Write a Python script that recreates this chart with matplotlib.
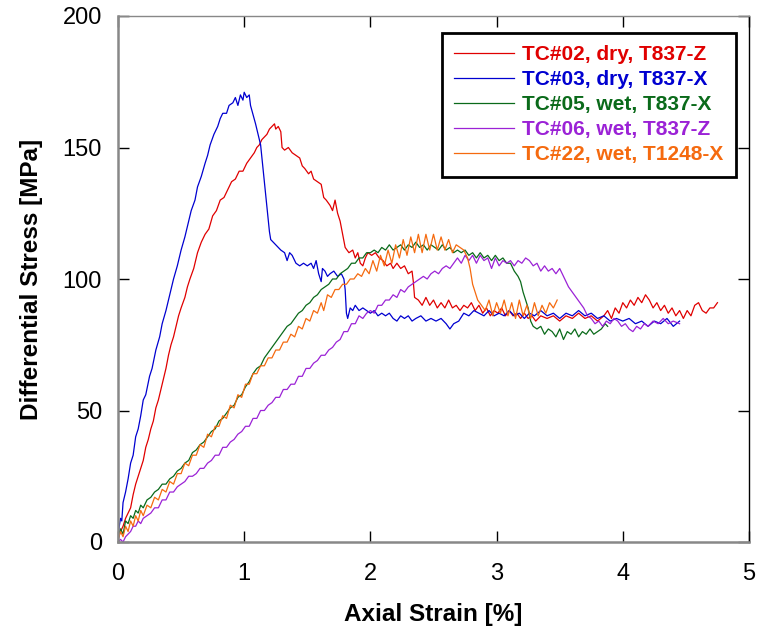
import numpy as np
import matplotlib
matplotlib.use('Agg')
import matplotlib.pyplot as plt

plt.rcParams['font.family'] = ['Liberation Sans', 'DejaVu Sans']

# (axial strain [%], differential stress [MPa])
tc02 = [(0.00, 1), (0.02, 4), (0.04, 6), (0.06, 9), (0.08, 11), (0.10, 13), (0.12, 18), (0.14, 22),
        (0.16, 25), (0.18, 28), (0.20, 31), (0.22, 36), (0.24, 39), (0.26, 43), (0.28, 46), (0.30, 51),
        (0.32, 54), (0.34, 58), (0.36, 62), (0.38, 66), (0.40, 71), (0.42, 75), (0.44, 78), (0.46, 82),
        (0.48, 86), (0.50, 89), (0.53, 93), (0.55, 97), (0.57, 100), (0.60, 104), (0.63, 110), (0.66, 114),
        (0.69, 117), (0.72, 119), (0.75, 124), (0.78, 126), (0.81, 130), (0.84, 131), (0.87, 134),
        (0.90, 137), (0.93, 138), (0.96, 141), (0.99, 141), (1.02, 144), (1.05, 146), (1.08, 148),
        (1.10, 150), (1.12, 151), (1.14, 153), (1.16, 154), (1.18, 155), (1.20, 157), (1.22, 158),
        (1.24, 159), (1.25, 157), (1.27, 158), (1.29, 156), (1.30, 150), (1.32, 149), (1.35, 150),
        (1.38, 148), (1.41, 147), (1.44, 146), (1.46, 143), (1.48, 142), (1.51, 140), (1.53, 141),
        (1.55, 138), (1.58, 137), (1.61, 136), (1.63, 131), (1.65, 130), (1.68, 128), (1.70, 126),
        (1.72, 130), (1.74, 125), (1.76, 122), (1.78, 117), (1.80, 112), (1.83, 110), (1.86, 111),
        (1.88, 108), (1.90, 110), (1.92, 106), (1.94, 105), (1.96, 108), (1.98, 110), (2.01, 109),
        (2.04, 110), (2.07, 108), (2.10, 107), (2.13, 105), (2.16, 106), (2.18, 104), (2.21, 106),
        (2.24, 104), (2.27, 105), (2.30, 102), (2.33, 103), (2.34, 99), (2.35, 93), (2.38, 92),
        (2.41, 90), (2.44, 93), (2.47, 90), (2.50, 92), (2.53, 89), (2.56, 91), (2.59, 89), (2.62, 92),
        (2.65, 89), (2.68, 90), (2.71, 88), (2.74, 90), (2.77, 89), (2.80, 91), (2.83, 88), (2.86, 90),
        (2.89, 87), (2.92, 89), (2.95, 86), (2.98, 88), (3.01, 87), (3.04, 89), (3.07, 86), (3.10, 88),
        (3.13, 86), (3.16, 87), (3.19, 85), (3.22, 87), (3.25, 85), (3.28, 86), (3.31, 84), (3.35, 86),
        (3.40, 85), (3.45, 86), (3.50, 84), (3.55, 86), (3.60, 85), (3.65, 87), (3.70, 85), (3.75, 86),
        (3.80, 84), (3.85, 86), (3.88, 88), (3.91, 85), (3.94, 89), (3.97, 87), (4.00, 91), (4.03, 89),
        (4.06, 92), (4.09, 90), (4.12, 93), (4.15, 91), (4.18, 94), (4.21, 92), (4.24, 89), (4.27, 91),
        (4.30, 88), (4.33, 90), (4.36, 87), (4.39, 89), (4.42, 86), (4.45, 88), (4.48, 85), (4.51, 88),
        (4.54, 86), (4.57, 90), (4.60, 91), (4.63, 88), (4.66, 87), (4.69, 89), (4.72, 89), (4.75, 91)]

tc03 = [(0.00, 2), (0.01, 6), (0.02, 9), (0.03, 8), (0.04, 15), (0.06, 19), (0.08, 24), (0.10, 30),
        (0.12, 33), (0.14, 40), (0.16, 43), (0.18, 48), (0.20, 54), (0.22, 56), (0.25, 63), (0.27, 66),
        (0.30, 73), (0.33, 78), (0.35, 83), (0.38, 88), (0.41, 94), (0.44, 100), (0.47, 105),
        (0.50, 111), (0.53, 116), (0.55, 120), (0.58, 126), (0.61, 130), (0.63, 135), (0.66, 139),
        (0.69, 144), (0.71, 147), (0.73, 151), (0.76, 155), (0.79, 158), (0.81, 161), (0.83, 163),
        (0.86, 163), (0.88, 166), (0.91, 167), (0.93, 169), (0.95, 166), (0.97, 170), (0.99, 168),
        (1.00, 171), (1.02, 169), (1.04, 170), (1.05, 166), (1.09, 159), (1.13, 151), (1.17, 132),
        (1.20, 118), (1.21, 115), (1.25, 113), (1.29, 111), (1.32, 110), (1.34, 107), (1.36, 110),
        (1.38, 109), (1.41, 106), (1.44, 105), (1.47, 106), (1.50, 105), (1.53, 106), (1.55, 104),
        (1.57, 107), (1.59, 102), (1.61, 99), (1.62, 104), (1.64, 103), (1.66, 101), (1.68, 102),
        (1.71, 103), (1.74, 101), (1.77, 102), (1.79, 100), (1.80, 96), (1.81, 87), (1.82, 85),
        (1.84, 89), (1.86, 88), (1.88, 90), (1.91, 88), (1.94, 89), (1.97, 88), (2.00, 87), (2.03, 88),
        (2.06, 86), (2.09, 87), (2.12, 86), (2.15, 87), (2.18, 85), (2.21, 84), (2.24, 86), (2.27, 85),
        (2.30, 86), (2.33, 84), (2.36, 85), (2.40, 86), (2.44, 84), (2.48, 85), (2.52, 84), (2.56, 85),
        (2.60, 83), (2.63, 81), (2.66, 83), (2.70, 84), (2.74, 87), (2.78, 86), (2.82, 88), (2.86, 87),
        (2.90, 86), (2.94, 88), (2.98, 86), (3.02, 87), (3.06, 86), (3.10, 88), (3.14, 86), (3.18, 87),
        (3.22, 85), (3.26, 87), (3.30, 86), (3.35, 88), (3.40, 86), (3.45, 87), (3.50, 85), (3.55, 87),
        (3.60, 86), (3.65, 88), (3.70, 86), (3.75, 87), (3.80, 85), (3.85, 86), (3.90, 84), (3.95, 85),
        (4.00, 84), (4.05, 85), (4.10, 83), (4.15, 84), (4.20, 82), (4.25, 84), (4.30, 83), (4.35, 85),
        (4.40, 82), (4.45, 84)]

tc05 = [(0.00, 2), (0.02, 5), (0.04, 3), (0.06, 8), (0.08, 7), (0.10, 10), (0.12, 9), (0.14, 12),
        (0.16, 11), (0.18, 14), (0.20, 13), (0.23, 16), (0.26, 17), (0.29, 19), (0.32, 20), (0.35, 22),
        (0.38, 22), (0.41, 24), (0.44, 25), (0.47, 27), (0.50, 28), (0.53, 30), (0.56, 31), (0.59, 34),
        (0.62, 35), (0.65, 37), (0.68, 38), (0.71, 40), (0.74, 42), (0.77, 43), (0.80, 46), (0.83, 47),
        (0.86, 49), (0.89, 51), (0.92, 52), (0.95, 55), (0.98, 56), (1.01, 59), (1.04, 61), (1.07, 64),
        (1.10, 66), (1.13, 67), (1.16, 70), (1.19, 72), (1.22, 74), (1.25, 76), (1.28, 78), (1.31, 80),
        (1.34, 82), (1.37, 83), (1.40, 85), (1.43, 87), (1.46, 88), (1.49, 90), (1.52, 91), (1.55, 93),
        (1.58, 94), (1.61, 96), (1.64, 97), (1.67, 98), (1.70, 100), (1.73, 100), (1.76, 102),
        (1.79, 103), (1.82, 104), (1.85, 106), (1.88, 106), (1.91, 108), (1.94, 108), (1.97, 110),
        (2.00, 110), (2.03, 111), (2.06, 110), (2.09, 112), (2.12, 111), (2.15, 113), (2.18, 111),
        (2.21, 112), (2.24, 113), (2.27, 111), (2.30, 113), (2.33, 112), (2.36, 114), (2.39, 112),
        (2.42, 113), (2.45, 111), (2.48, 113), (2.51, 112), (2.54, 111), (2.57, 113), (2.60, 111),
        (2.63, 112), (2.66, 110), (2.69, 111), (2.72, 110), (2.75, 111), (2.78, 109), (2.81, 110),
        (2.84, 108), (2.87, 110), (2.90, 108), (2.93, 109), (2.96, 107), (2.99, 109), (3.02, 107),
        (3.05, 108), (3.08, 106), (3.11, 106), (3.14, 103), (3.17, 101), (3.19, 99), (3.21, 95),
        (3.23, 92), (3.25, 89), (3.27, 84), (3.29, 82), (3.32, 81), (3.35, 82), (3.38, 79), (3.41, 81),
        (3.44, 80), (3.47, 78), (3.50, 81), (3.53, 77), (3.56, 80), (3.59, 79), (3.62, 81), (3.65, 78),
        (3.68, 80), (3.71, 79), (3.74, 81), (3.77, 79), (3.80, 80), (3.83, 81), (3.86, 83), (3.88, 82)]

tc06 = [(0.00, 0), (0.02, 1), (0.04, 0), (0.06, 2), (0.08, 3), (0.10, 4), (0.12, 6), (0.14, 6),
        (0.16, 8), (0.18, 7), (0.20, 9), (0.23, 10), (0.26, 11), (0.29, 13), (0.32, 13), (0.35, 16),
        (0.38, 16), (0.41, 19), (0.44, 19), (0.47, 21), (0.50, 22), (0.53, 23), (0.56, 25), (0.59, 25),
        (0.62, 26), (0.65, 28), (0.68, 28), (0.71, 30), (0.74, 31), (0.77, 33), (0.80, 33), (0.83, 36),
        (0.86, 36), (0.89, 38), (0.92, 39), (0.95, 41), (0.98, 42), (1.01, 44), (1.04, 44), (1.07, 47),
        (1.10, 47), (1.13, 50), (1.16, 50), (1.19, 52), (1.22, 53), (1.25, 55), (1.28, 55), (1.31, 58),
        (1.34, 58), (1.37, 60), (1.40, 60), (1.43, 63), (1.46, 63), (1.49, 66), (1.52, 66), (1.55, 68),
        (1.58, 69), (1.61, 71), (1.64, 71), (1.67, 73), (1.70, 74), (1.73, 76), (1.76, 77), (1.79, 80),
        (1.82, 80), (1.85, 83), (1.88, 83), (1.91, 86), (1.94, 85), (1.97, 87), (2.00, 88), (2.03, 87),
        (2.06, 90), (2.09, 90), (2.12, 92), (2.15, 92), (2.18, 94), (2.21, 93), (2.24, 96), (2.27, 95),
        (2.30, 97), (2.33, 98), (2.36, 99), (2.39, 100), (2.42, 101), (2.45, 100), (2.48, 102),
        (2.51, 103), (2.54, 102), (2.57, 104), (2.60, 105), (2.63, 104), (2.66, 106), (2.69, 108),
        (2.72, 106), (2.75, 109), (2.78, 107), (2.81, 109), (2.84, 106), (2.87, 109), (2.90, 107),
        (2.93, 108), (2.96, 104), (2.99, 108), (3.02, 105), (3.05, 107), (3.08, 106), (3.11, 107),
        (3.14, 105), (3.17, 107), (3.20, 106), (3.23, 108), (3.26, 107), (3.29, 105), (3.32, 106),
        (3.35, 103), (3.38, 105), (3.41, 103), (3.44, 104), (3.47, 102), (3.50, 104), (3.53, 101),
        (3.55, 99), (3.57, 97), (3.60, 95), (3.63, 93), (3.66, 91), (3.69, 89), (3.72, 86), (3.75, 85),
        (3.78, 83), (3.81, 84), (3.84, 82), (3.87, 84), (3.90, 83), (3.93, 85), (3.96, 84), (3.99, 82),
        (4.02, 83), (4.05, 81), (4.08, 80), (4.11, 82), (4.14, 81), (4.17, 83), (4.20, 82), (4.24, 84),
        (4.28, 83), (4.32, 85), (4.36, 83), (4.40, 84), (4.45, 83)]

tc22 = [(0.00, 1), (0.02, 4), (0.04, 2), (0.06, 6), (0.08, 4), (0.10, 8), (0.12, 6), (0.14, 10),
        (0.16, 8), (0.18, 12), (0.20, 10), (0.23, 14), (0.26, 13), (0.29, 17), (0.32, 16), (0.35, 20),
        (0.38, 19), (0.41, 23), (0.44, 22), (0.47, 26), (0.50, 26), (0.53, 30), (0.56, 29), (0.59, 33),
        (0.62, 33), (0.65, 37), (0.68, 36), (0.71, 41), (0.74, 40), (0.77, 44), (0.80, 44), (0.83, 48),
        (0.86, 47), (0.89, 52), (0.92, 51), (0.95, 56), (0.98, 55), (1.01, 60), (1.04, 60), (1.07, 64),
        (1.10, 64), (1.13, 67), (1.16, 67), (1.19, 70), (1.22, 70), (1.25, 73), (1.28, 73), (1.31, 76),
        (1.34, 76), (1.37, 79), (1.40, 78), (1.43, 82), (1.46, 81), (1.49, 85), (1.52, 84), (1.55, 88),
        (1.58, 87), (1.61, 91), (1.63, 88), (1.66, 94), (1.69, 93), (1.72, 96), (1.75, 96), (1.78, 98),
        (1.81, 98), (1.84, 100), (1.87, 100), (1.90, 102), (1.93, 101), (1.96, 104), (1.99, 102),
        (2.02, 107), (2.05, 103), (2.08, 109), (2.11, 105), (2.14, 111), (2.17, 106), (2.20, 113),
        (2.23, 108), (2.26, 115), (2.29, 109), (2.32, 116), (2.35, 110), (2.38, 117), (2.41, 110),
        (2.44, 117), (2.47, 111), (2.50, 117), (2.53, 111), (2.56, 116), (2.59, 111), (2.62, 115),
        (2.65, 110), (2.68, 113), (2.71, 112), (2.74, 111), (2.77, 108), (2.79, 104), (2.81, 98),
        (2.83, 95), (2.85, 92), (2.88, 90), (2.91, 88), (2.94, 92), (2.97, 86), (3.00, 91), (3.03, 87),
        (3.06, 92), (3.09, 86), (3.12, 91), (3.15, 85), (3.18, 92), (3.21, 86), (3.24, 90), (3.27, 85),
        (3.30, 91), (3.33, 86), (3.36, 90), (3.39, 87), (3.42, 91), (3.45, 89), (3.48, 92)]

labels = ['TC#02, dry, T837-Z', 'TC#03, dry, T837-X', 'TC#05, wet, T837-X',
          'TC#06, wet, T837-Z', 'TC#22, wet, T1248-X']
colors = ['#e00000', '#0000d0', '#0a6a1a', '#9b22d6', '#f56a0f']
series = [tc02, tc03, tc05, tc06, tc22]

fig = plt.figure(figsize=(7.6, 6.3), dpi=100)
ax = fig.add_axes([118 / 760, 88 / 630, 631 / 760, 526 / 630])

for data, color, label in zip(series, colors, labels):
    arr = np.array(data)
    ax.plot(arr[:, 0], arr[:, 1], color=color, lw=0.9, label=label)

ax.set_xlim(0, 5)
ax.set_ylim(0, 200)
ax.set_xticks([0, 1, 2, 3, 4, 5])
ax.set_yticks([0, 50, 100, 150, 200])
ax.tick_params(direction='in', length=8, width=1, labelsize=17, color='black',
               top=True, right=True)
ax.tick_params(axis='x', pad=15)
ax.tick_params(axis='y', pad=11.5)
ax.set_xlabel('Axial Strain [%]', fontsize=17.5, fontweight='bold', labelpad=13)
ax.set_ylabel('Differential Stress [MPa]', fontsize=17.5, fontweight='bold', labelpad=14)

for side in ['left', 'bottom', 'top']:
    ax.spines[side].set_color('#888888')
    ax.spines[side].set_linewidth(1.8)
ax.spines['top'].set_linewidth(1.0)
ax.spines['right'].set_color('black')
ax.spines['right'].set_linewidth(1.0)

leg = ax.legend(loc='upper right', bbox_to_anchor=(0.979, 0.968), borderaxespad=0,
                fancybox=False, framealpha=1, edgecolor='black', handlelength=2.85,
                handletextpad=0.4, labelspacing=0.29, borderpad=0.6,
                prop={'weight': 'bold', 'size': 15})
leg.get_frame().set_linewidth(2)
for text, color in zip(leg.get_texts(), colors):
    text.set_color(color)

plt.savefig('out.png', dpi=100)
